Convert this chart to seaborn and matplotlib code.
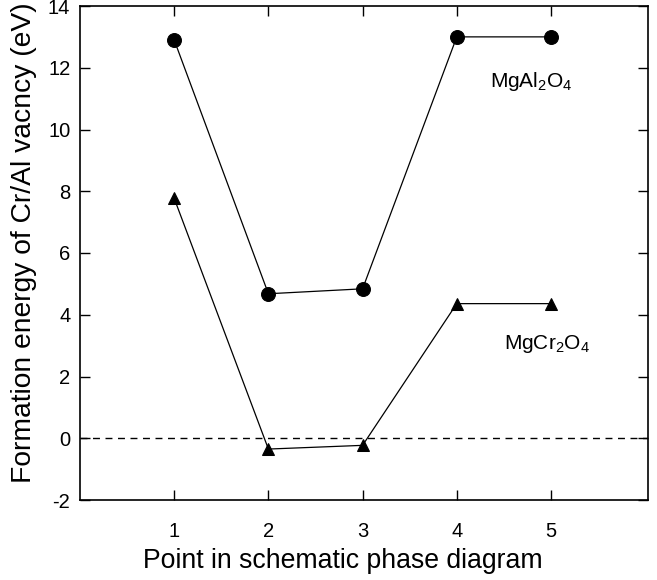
import matplotlib
matplotlib.use("Agg")
import matplotlib.pyplot as plt
import seaborn as sns
import pandas as pd

points = [1, 2, 3, 4, 5]
mgal2o4 = [12.9, 4.68, 4.84, 13.0, 13.0]
mgcr2o4 = [7.77, -0.35, -0.23, 4.36, 4.36]
x_ticks = [1, 2, 3, 4, 5]
y_ticks = [-2, 0, 2, 4, 6, 8, 10, 12, 14]

sns.set_style("ticks")
plt.rcParams['font.family'] = ['Liberation Sans', 'DejaVu Sans']
plt.rcParams['mathtext.fontset'] = 'custom'
plt.rcParams['mathtext.rm'] = 'Liberation Sans'
plt.rcParams['axes.unicode_minus'] = False
plt.rcParams['text.color'] = 'black'
plt.rcParams['axes.labelcolor'] = 'black'
plt.rcParams['xtick.color'] = 'black'
plt.rcParams['ytick.color'] = 'black'

df = pd.DataFrame({"point": points, "MgAl2O4": mgal2o4, "MgCr2O4": mgcr2o4})

fig = plt.figure(figsize=(6.57, 5.8), dpi=100)
ax = fig.add_axes([80/657, 1-500/580, (648-80)/657, (500-6)/580])

sns.lineplot(data=df, x="point", y="MgAl2O4", ax=ax, color="black", lw=0.9,
             marker="o", markersize=10, markeredgecolor="black", markerfacecolor="black")
sns.lineplot(data=df, x="point", y="MgCr2O4", ax=ax, color="black", lw=0.9,
             marker="^", markersize=9, markeredgecolor="black", markerfacecolor="black")
ax.axhline(0, color="black", lw=1.0, ls=(0, (5, 4)))

ax.set_xlim(0, 6.03)
ax.set_ylim(-2, 14)
ax.set_xticks(x_ticks)
ax.set_yticks(y_ticks)
ax.tick_params(direction="in", top=True, right=True, labeltop=False, labelright=False,
               length=7, width=1, labelsize=14.5, colors="black")
ax.tick_params(axis="y", pad=7)
ax.tick_params(axis="x", pad=16)
for s in ax.spines.values():
    s.set_linewidth(1.2)
    s.set_color("black")

ax.text(4.79, 11.55, r"MgAl$_2$O$_4$", fontsize=15, ha="center", va="center")
ax.text(4.96, 3.06, r"MgCr$_2$O$_4$", fontsize=15, ha="center", va="center")

ax.set_xlabel("Point in schematic phase diagram", fontsize=19.2)
ax.set_ylabel("Formation energy of Cr/Al vacncy (eV)", fontsize=20.3)
ax.xaxis.label.set_va("center")
ax.yaxis.label.set_va("center")
ax.xaxis.set_label_coords(0.463, -0.1235)
ax.yaxis.set_label_coords(-0.0986, 0.52)

fig.savefig("out.png", dpi=100)
